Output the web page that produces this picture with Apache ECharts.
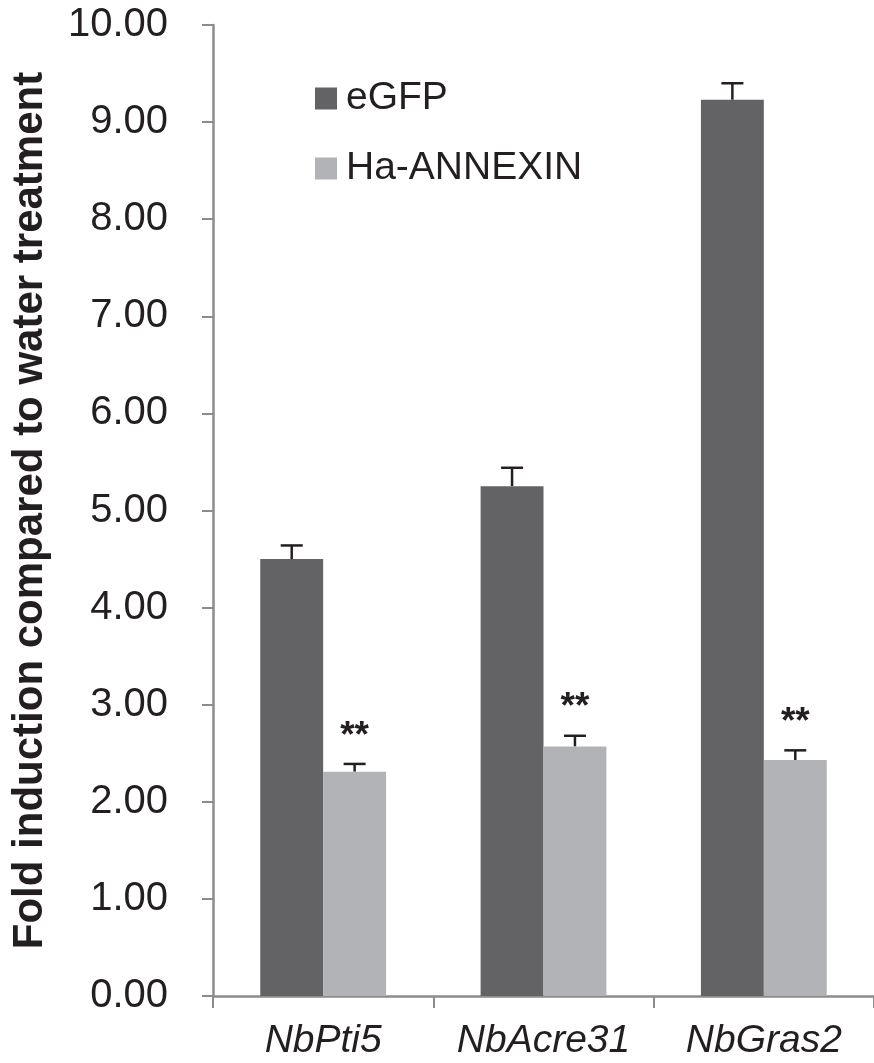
<!DOCTYPE html>
<html><head><meta charset="utf-8">
<script src="https://cdn.jsdelivr.net/npm/echarts@6/dist/echarts.min.js"></script>
<style>html,body{margin:0;padding:0;background:#fff}#c{width:874px;height:1063px}</style>
</head><body><div id="c"></div>
<script>
var categories = ['NbPti5', 'NbAcre31', 'NbGras2'];
var seriesNames = ['eGFP', 'Ha-ANNEXIN'];
var egfp = [4.50, 5.25, 9.23];
var egfpErr = [0.14, 0.19, 0.17];
var annexin = [2.31, 2.57, 2.43];
var annexinErr = [0.08, 0.11, 0.10];
var significance = ['**', '**', '**'];
var yTicks = [0, 1, 2, 3, 4, 5, 6, 7, 8, 9, 10];

var FONT = '"Liberation Sans", Arial, sans-serif';
var TXT = '#231f20';
var AX = '#8c8c8c';
var C1 = '#636365', C2 = '#b2b3b7';

function errData(vals, errs, stars) {
  return vals.map(function (v, i) { return [i, v, v + errs[i], stars ? stars[i] : '']; });
}

function makeErr(seriesIdx) {
  return function (params, api) {
    var ci = api.value(0);
    var top = api.coord([ci, api.value(2)]);
    var base = api.coord([ci, api.value(1)]);
    var bw = api.size([1, 0])[0];
    var barW = bw * 0.2855;
    var cx = top[0] + (seriesIdx === 0 ? -barW / 2 : barW / 2);
    var half = 11;
    var children = [
      { type: 'line', shape: { x1: cx, y1: base[1], x2: cx, y2: top[1] }, style: { stroke: TXT, lineWidth: 2.5 } },
      { type: 'line', shape: { x1: cx - half, y1: top[1], x2: cx + half, y2: top[1] }, style: { stroke: TXT, lineWidth: 2.5 } }
    ];
    var s = api.value(3);
    if (s) {
      children.push({ type: 'text', style: { text: s, x: cx, y: top[1] - 9, align: 'center', verticalAlign: 'bottom', font: 'bold 37px ' + FONT, fill: TXT } });
    }
    return { type: 'group', children: children };
  };
}

var chart = echarts.init(document.getElementById('c'), null, { renderer: 'canvas' });
chart.setOption({
  animation: false,
  backgroundColor: '#fff',
  grid: { left: 213, right: 0, top: 25, bottom: 67, containLabel: false },
  legend: {
    orient: 'vertical', left: 310, top: 74, itemWidth: 22, itemHeight: 22, itemGap: 31,
    icon: 'rect',
    textStyle: { fontFamily: FONT, fontSize: 39, color: TXT, padding: [0, 0, 0, 4] },
    data: seriesNames
  },
  xAxis: {
    type: 'category', data: categories,
    axisLine: { lineStyle: { color: AX, width: 2.5 } },
    axisTick: { show: true, length: 12, lineStyle: { color: AX, width: 2 } },
    axisLabel: { interval: 0, hideOverlap: false, fontFamily: FONT, fontSize: 39, fontStyle: 'italic', color: TXT, margin: 26 }
  },
  yAxis: {
    type: 'value', min: yTicks[0], max: yTicks[yTicks.length - 1], interval: 1,
    name: 'Fold induction compared to water treatment', nameLocation: 'middle', nameGap: 162,
    nameTextStyle: { fontFamily: FONT, fontSize: 42, fontWeight: 'bold', color: TXT },
    splitLine: { show: false },
    axisLine: { show: true, lineStyle: { color: AX, width: 2.5 } },
    axisTick: { show: true, length: 11, lineStyle: { color: AX, width: 2 } },
    axisLabel: { fontFamily: FONT, fontSize: 40, color: TXT, margin: 45, formatter: function (v) { return v.toFixed(2); } }
  },
  series: [
    { name: seriesNames[0], type: 'bar', data: egfp, barWidth: '28.55%', barGap: '0%', itemStyle: { color: C1 }, z: 2 },
    { name: seriesNames[1], type: 'bar', data: annexin, barWidth: '28.55%', barGap: '0%', itemStyle: { color: C2 }, z: 2 },
    { type: 'custom', renderItem: makeErr(0), data: errData(egfp, egfpErr), z: 1, encode: { x: 0, y: [1, 2] }, silent: true },
    { type: 'custom', renderItem: makeErr(1), data: errData(annexin, annexinErr, significance), z: 1, encode: { x: 0, y: [1, 2] }, silent: true }
  ]
});
</script></body></html>
